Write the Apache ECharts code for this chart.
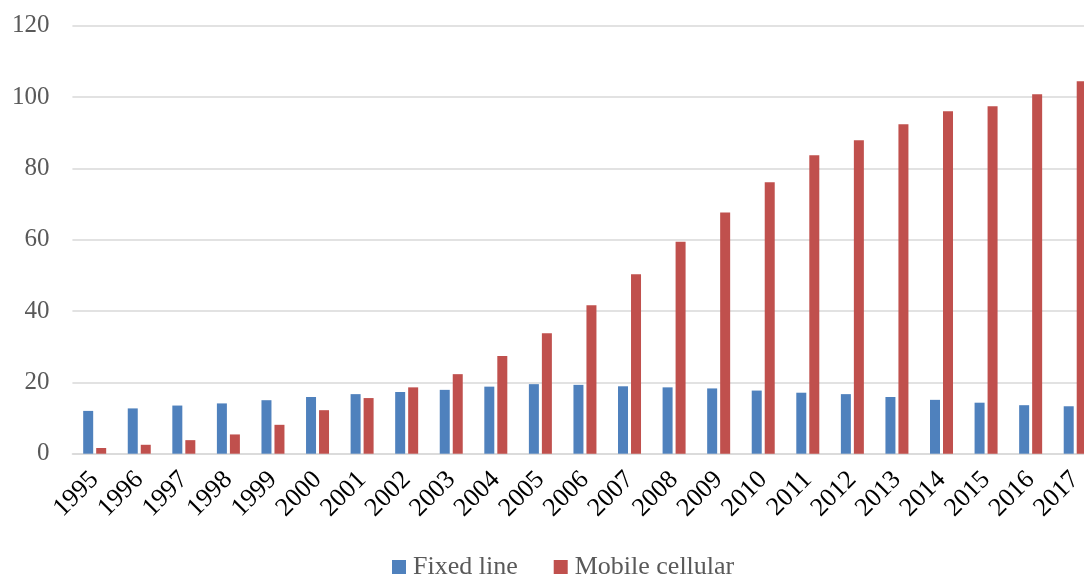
<!DOCTYPE html>
<html>
<head>
<meta charset="utf-8">
<script src="https://cdn.jsdelivr.net/npm/echarts@6/dist/echarts.min.js"></script>
<style>
html,body{margin:0;padding:0;background:#fff;overflow:hidden;width:1084px;height:578px;}
#chart{width:1098px;height:578px;}
</style>
</head>
<body>
<div id="chart"></div>
<script>
const years = ['1995','1996','1997','1998','1999','2000','2001','2002','2003','2004','2005','2006','2007','2008','2009','2010','2011','2012','2013','2014','2015','2016','2017'];
const fixedLine = [12.0,12.7,13.5,14.1,15.0,15.9,16.7,17.3,17.9,18.8,19.5,19.3,18.9,18.6,18.3,17.7,17.1,16.7,15.9,15.1,14.3,13.6,13.3];
const mobileCellular = [1.6,2.5,3.8,5.4,8.1,12.2,15.6,18.6,22.3,27.4,33.8,41.6,50.3,59.4,67.6,76.1,83.7,87.9,92.4,96.0,97.4,100.8,104.4];
const seriesNames = ['Fixed line','Mobile cellular'];
const yTicks = {min:0, max:120, interval:20};

const FONT = '"Liberation Serif","Times New Roman",serif';
const chart = echarts.init(document.getElementById('chart'), null, {renderer:'canvas'});
chart.setOption({
  animation:false,
  backgroundColor:'#ffffff',
  grid:{left:72.4, right:0.5, top:25.7, bottom:124.3, containLabel:false},
  legend:{
    data:seriesNames,
    left:392, top:554, padding:0,
    itemWidth:14, itemHeight:14, itemGap:36,
    icon:'rect',
    textStyle:{fontFamily:FONT, fontSize:26, color:'#595959', padding:[0,0,0,2]}
  },
  xAxis:{
    type:'category',
    data:years,
    axisLine:{show:true, lineStyle:{color:'#D9D9D9', width:1.5}},
    axisTick:{show:false},
    axisLabel:{rotate:45, margin:22, fontFamily:FONT, fontSize:26, color:'#000000', interval:0}
  },
  yAxis:{
    type:'value',
    min:yTicks.min, max:yTicks.max, interval:yTicks.interval,
    axisLine:{show:false},
    axisTick:{show:false},
    splitLine:{lineStyle:{color:'#D9D9D9', width:1.5}},
    axisLabel:{margin:23, fontFamily:FONT, fontSize:25, color:'#595959'}
  },
  series:[
    {name:seriesNames[0], type:'bar', data:fixedLine, barWidth:10, barGap:'30%', itemStyle:{color:'#4F81BD'}},
    {name:seriesNames[1], type:'bar', data:mobileCellular, barWidth:10, barGap:'30%', itemStyle:{color:'#C0504D'}}
  ]
});
</script>
</body>
</html>
